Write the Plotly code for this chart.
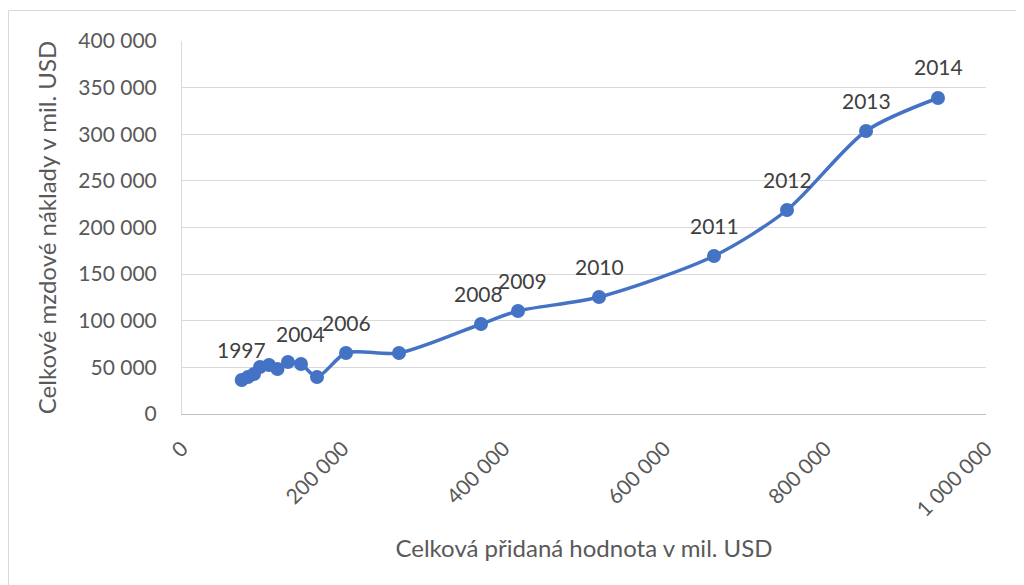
import plotly.graph_objects as go

years = list(range(1997, 2015))
pridana_hodnota = [74250, 82090, 89550, 97020, 108200, 118800, 131800, 148000, 167900,
                   204000, 269900, 371900, 417900, 518700, 661700, 752500, 850800, 940300]
mzdove_naklady = [36460, 39680, 42900, 50400, 52550, 48260, 55760, 53620, 39680,
                  65400, 65400, 96500, 110450, 125470, 169440, 218770, 303490, 338880]
labeled_years = [1997, 2004, 2006, 2008, 2009, 2010, 2011, 2012, 2013, 2014]
label_xshift = {2008: -3, 2009: 5}

x_ticks = [0, 200000, 400000, 600000, 800000, 1000000]
x_ticklabels = ["0", "200 000", "400 000", "600 000", "800 000", "1 000 000"]
y_ticks = [0, 50000, 100000, 150000, 200000, 250000, 300000, 350000, 400000]
y_ticklabels = ["0", "50 000", "100 000", "150 000", "200 000", "250 000", "300 000", "350 000", "400 000"]

FONT = "Lato"
BLUE = "#4472C4"

fig = go.Figure()
fig.add_trace(go.Scatter(
    x=pridana_hodnota, y=mzdove_naklady,
    mode="lines+markers",
    line=dict(color=BLUE, width=3.5, shape="spline", smoothing=0.8),
    marker=dict(color=BLUE, size=14),
    showlegend=False,
))

annotations = []
for yr, xv, yv in zip(years, pridana_hodnota, mzdove_naklady):
    if yr in labeled_years:
        annotations.append(dict(
            x=xv, y=yv, xref="x", yref="y", text=str(yr), showarrow=False,
            yshift=31, xshift=label_xshift.get(yr, 0),
            font=dict(family=FONT, size=21, color="#404040"),
        ))

# page offset of the figure (body margin) = 8px
OFF = 8
W, H = 1016, 577
L, R, T, B = 182 - OFF, 38, 41 - OFF, 171
pw, ph = W - L - R, H - T - B
def px_x(p): return (p - OFF - L) / pw
def px_y(p): return (H - B - (p - OFF)) / ph

fig.update_layout(
    width=W, height=H,
    margin=dict(l=L, r=R, t=T, b=B),
    paper_bgcolor="white", plot_bgcolor="white",
    font=dict(family=FONT, color="#595959"),
    annotations=annotations,
    shapes=[dict(type="rect", xref="paper", yref="paper",
                 x0=px_x(8.5), x1=px_x(1040), y0=px_y(600), y1=px_y(10.5),
                 line=dict(color="#d9d9d9", width=1), fillcolor="rgba(0,0,0,0)", layer="below")],
    xaxis=dict(
        range=[0, 1000000], tickvals=x_ticks, ticktext=x_ticklabels,
        tickangle=-45, showgrid=False, zeroline=False,
        showline=True, linecolor="#bfbfbf", linewidth=1, ticks="",
        tickfont=dict(family=FONT, size=21, color="#595959"),
        ticklabelstandoff=13,
        title=dict(text="Celková přidaná hodnota v mil. USD",
                   font=dict(family=FONT, size=24, color="#595959"), standoff=20),
    ),
    yaxis=dict(
        range=[0, 400000], tickvals=y_ticks, ticktext=y_ticklabels,
        showgrid=True, gridcolor="#d9d9d9", gridwidth=1, zeroline=False,
        showline=True, linecolor="#d9d9d9", linewidth=1, ticks="",
        tickfont=dict(family=FONT, size=21, color="#595959"),
        ticklabelstandoff=20,
        title=dict(text="Celkové mzdové náklady v mil. USD",
                   font=dict(family=FONT, size=24, color="#595959"), standoff=14),
    ),
)

fig.write_html("out.html")
